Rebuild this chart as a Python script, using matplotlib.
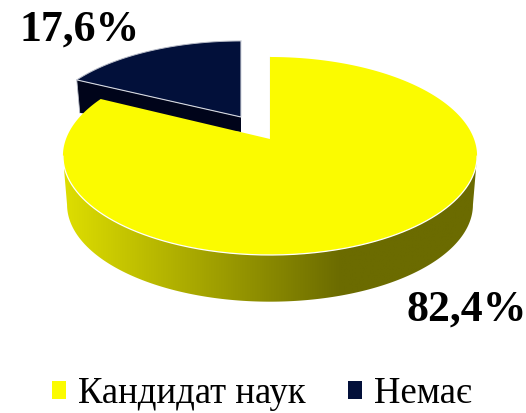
import numpy as np
import matplotlib
matplotlib.use("Agg")
import matplotlib.pyplot as plt
from matplotlib.colors import LinearSegmentedColormap
from matplotlib.patches import Patch, Polygon

categories = ["Кандидат наук", "Немає"]
values = [82.4, 17.6]
labels = ["82,4%", "17,6%"]

YELLOW = "#FBFB00"
NAVY = "#02103A"
NAVY_SIDE = "#00041A"
K = 0.1717  # perspective


def project(deg, ax0, ay0, sx=1.0, sy=1.0):
    """Clockwise angle from 12 o'clock on the tilted disc -> figure pixels."""
    t = np.radians(deg)
    X, Y = np.sin(t), np.cos(t)
    d = 1 + K * Y
    return ax0 + 204.0 * sx * X / d, ay0 - 96.08 * sy * Y / d


fig = plt.figure(figsize=(5.26, 4.13), dpi=100)
ax = fig.add_axes([0, 0, 1, 1])
ax.axis("off")

split = 360 * values[0] / sum(values)
A_TOP = (270.0, 139.0)
A_BOT = (270.0, 188.0)
A_DARK = (241.0, 117.0)
DARK_S = (0.97, 0.927)
DEPTH_DARK = 15

# Yellow outer wall with a horizontal gradient
full = np.linspace(0, 360, 721)
tx, ty = project(full, *A_TOP)
bx, by = project(full, *A_BOT, 0.98, 0.98)
il_t, ir_t = np.argmin(tx), np.argmax(tx)
il_b, ir_b = np.argmin(bx), np.argmax(bx)
arc = np.arange(ir_b, il_b + 1)
wall = np.vstack([[tx[il_t], ty[il_t]],
                  np.column_stack([bx[arc][::-1], by[arc][::-1]]),
                  [tx[ir_t], ty[ir_t]]])
cmap = LinearSegmentedColormap.from_list(
    "wall", [(0, "#DEDE00"), (0.67, "#6B6B00"), (1, "#6B6B00")])
img = ax.imshow(np.linspace(0, 1, 256)[None, :], cmap=cmap, aspect="auto",
                extent=(64, 478, 310, 150), zorder=1)
poly = Polygon(wall, closed=True, transform=ax.transData, fc="none", ec="none")
ax.add_patch(poly)
img.set_clip_path(poly)

# Dark slice: cut face, then top
ang = np.linspace(split, 360, 120)
dx, dy = project(ang, *A_DARK, *DARK_S)
ax.fill([dx[0], A_DARK[0], A_DARK[0], dx[0] + 3],
        [dy[0], A_DARK[1], A_DARK[1] + DEPTH_DARK, dy[0] + 33],
        color=NAVY_SIDE, lw=0, zorder=2)
ax.fill(np.r_[A_DARK[0], dx], np.r_[A_DARK[1], dy], color=NAVY, lw=0, zorder=3)
ax.plot(dx, dy, color="#B8BCC8", lw=0.7, zorder=3)
ax.plot([dx[0], A_DARK[0], dx[-1]], [dy[0], A_DARK[1], dy[-1]],
        color="#D5D8E0", lw=0.8, zorder=3)
ax.plot([dx[0], dx[0] + 3], [dy[0], dy[0] + 33], color="#B8BCC8", lw=0.6, zorder=2)

# Yellow slice top
ang = np.linspace(0, split, 600)
yx, yy = project(ang, *A_TOP)
ax.plot([A_TOP[0], A_TOP[0]], [yy[0], A_TOP[1]], color="#A8A860", lw=0.8, zorder=4)
ax.fill(np.r_[A_TOP[0], yx], np.r_[A_TOP[1], yy], color=YELLOW, lw=0, zorder=5)
front = np.arange(ir_t, il_t + 1)
ax.plot(tx[front], ty[front], color="white", lw=0.9, zorder=6)

ax.set_xlim(0, 526)
ax.set_ylim(413, 0)

# Value labels
font = "Liberation Serif"
ax.text(466.5, 310, labels[0], family=font, weight="bold", fontsize=31.5,
        ha="center", va="center", color="black", zorder=7)
ax.text(79.5, 30, labels[1], family=font, weight="bold", fontsize=31.5,
        ha="center", va="center", color="black", zorder=7)

# Legend
handles = [Patch(fc=YELLOW, ec="none"), Patch(fc=NAVY, ec="none")]
ax.legend(handles, categories, loc="center left", bbox_to_anchor=(52, 394),
          bbox_transform=ax.transData, ncol=2, frameon=False,
          prop={"family": font, "size": 26.5}, borderpad=0, borderaxespad=0,
          handlelength=0.38, handleheight=0.38, handletextpad=0.34,
          columnspacing=1.13, labelspacing=0)

fig.savefig("out.png", dpi=100)
